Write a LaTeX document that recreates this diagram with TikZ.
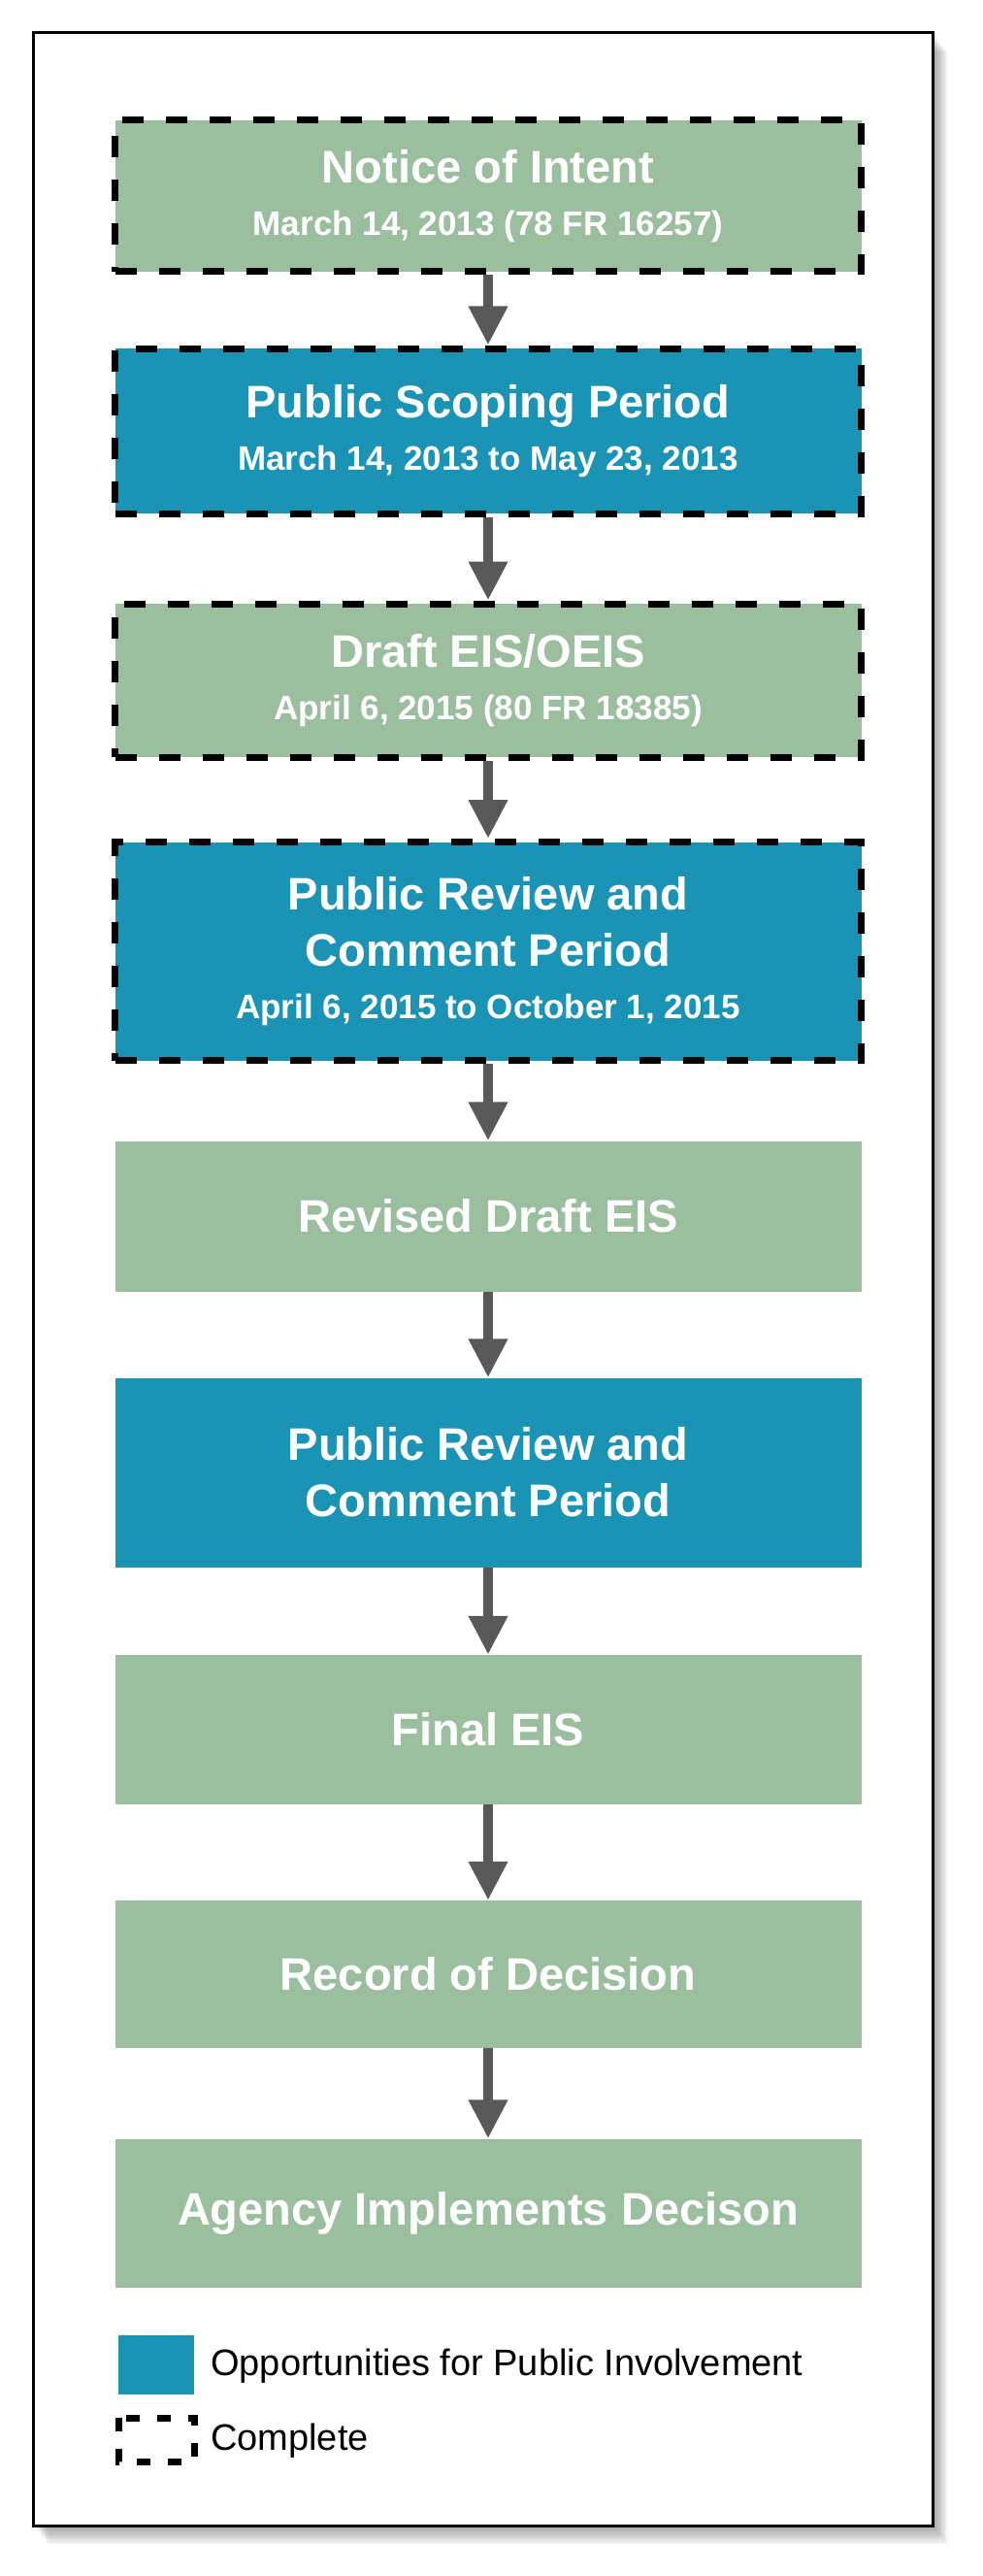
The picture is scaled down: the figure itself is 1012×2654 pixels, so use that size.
\documentclass[tikz,border=0pt]{standalone}
\usepackage{fontspec}
\setmainfont{Liberation Sans}
\usetikzlibrary{arrows.meta}
\definecolor{stepgreen}{HTML}{9BBF9E}
\definecolor{stepblue}{HTML}{1A93B5}
\definecolor{arrowgray}{HTML}{595959}
\newcommand{\dte}{\fontsize{35}{42}\selectfont}
\tikzset{arrow/.style={line width=10pt,arrowgray,-{Triangle[width=38pt,length=40pt]}}}

\begin{document}
\begin{tikzpicture}[
    x=1pt, y=-1pt,
    stepbox/.style={minimum width=769pt, align=center, text=white, inner sep=0pt,
      font=\fontsize{47}{58}\selectfont\bfseries},
    done/.style={draw=black, line width=7pt, dash pattern=on 22pt off 23pt},
    greenbox/.style={stepbox, fill=stepgreen},
    bluebox/.style={stepbox, fill=stepblue}
  ]
  \useasboundingbox (0,0) rectangle (1012,2654);

  % frame with soft shadow
  \foreach \i in {1,...,12}
    \fill[black, opacity=0.035] (34+\i*1.3,34+\i*1.6) rectangle (961+\i*1.3,2602+\i*1.6);
  \draw[fill=white, line width=3pt] (34,34) rectangle (961,2602);

  % steps
  \node[greenbox, done, minimum height=156pt] (noi) at (503,202) {Notice of Intent\\[-4pt]{\dte March 14, 2013 (78 FR 16257)}};
  \node[bluebox, done, minimum height=170pt] (scope) at (503,444) {Public Scoping Period\\[-4pt]{\dte March 14, 2013 to May 23, 2013}};
  \node[greenbox, done, minimum height=158pt] (deis) at (503,701) {Draft EIS/OEIS\\[-4pt]{\dte April 6, 2015 (80 FR 18385)}};
  \node[bluebox, done, minimum height=225pt] (review) at (503,980) {Public Review and\\Comment Period\\[-4pt]{\dte April 6, 2015 to October 1, 2015}};
  \node[greenbox, minimum height=155pt] (rdeis) at (503,1253) {Revised Draft EIS};
  \node[bluebox, minimum height=195pt] (review2) at (503,1517) {Public Review and\\Comment Period};
  \node[greenbox, minimum height=154pt] (feis) at (503,1782) {Final EIS};
  \node[greenbox, minimum height=152pt] (rod) at (503,2034) {Record of Decision};
  \node[greenbox, minimum height=153pt] (impl) at (503,2280) {Agency Implements Decison};

  % connectors
  \foreach \a/\b in {noi/scope, scope/deis, deis/review, review/rdeis, rdeis/review2, review2/feis, feis/rod, rod/impl}
    \draw[arrow] (\a.south) -- (\b.north);

  % legend
  \node[fill=stepblue, minimum width=78pt, minimum height=61pt, inner sep=0pt] (keyblue) at (161,2436) {};
  \node[anchor=west, font=\fontsize{38}{44}\selectfont, inner sep=0pt] (keybluetxt) at (217,2438) {Opportunities for Public Involvement};
  \draw[line width=7pt, dash pattern=on 14pt off 18pt] (122,2491) rectangle (200,2536);
  \node[anchor=west, font=\fontsize{38}{44}\selectfont, inner sep=0pt] (keydone) at (217,2515) {Complete};
\end{tikzpicture}
\end{document}
